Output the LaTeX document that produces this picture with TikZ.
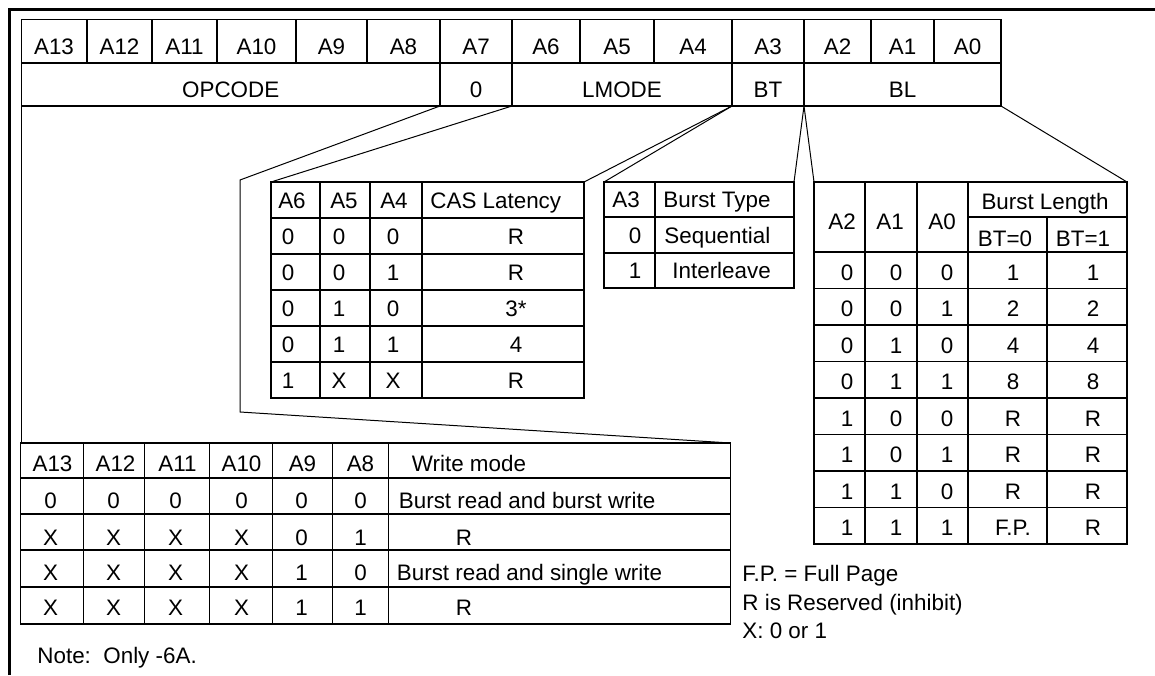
\documentclass[tikz,border=0pt]{standalone}
\usepackage{fontspec}
\setmainfont{Liberation Sans}
\tikzset{
  txt/.style={inner sep=0pt, anchor=base, font=\fontsize{11.2}{13.4}\selectfont},
  txtl/.style={txt, anchor=base west},
  grid/.style={line width=0.7pt},
  link/.style={line width=0.5pt},
  frame/.style={line width=1.5pt}
}
\begin{document}
\begin{tikzpicture}[x=0.5pt, y=-0.5pt]
\useasboundingbox (0,0) rectangle (1155,675);
\draw[frame] (9.5,675) -- (9.5,9.5) -- (1155,9.5);

% mode register
\begin{scope}[grid]
  \draw (21.5,19.5) rectangle (1001,106);
  \draw (21.5,63) -- (1001,63);
  \foreach \x in {87,152,217,296,367,580,654,871,934}
    \draw (\x,19.5) -- (\x,63);
  \foreach \x in {440,512,732,804}
    \draw (\x,19.5) -- (\x,106);
\end{scope}
\foreach \t/\x in {A13/54,A12/119.5,A11/184.5,A10/256.5,A9/331.5,A8/403.5,A7/476,
  A6/546,A5/617,A4/693,A3/768,A2/837.5,A1/902.5,A0/967.5}
  \node[txt] (reg-\t) at (\x,54) {\t};
\node[txt] (opcode) at (230.7,97) {OPCODE};
\node[txt] (zero) at (476,97) {0};
\node[txt] (lmode) at (622,97) {LMODE};
\node[txt] (bt) at (768,97) {BT};
\node[txt] (bl) at (902.5,97) {BL};
\coordinate (op-sw) at (21.5,106);
\coordinate (op-se) at (440,106);
\coordinate (lm-sw) at (512,106);
\coordinate (lm-se) at (732,106);
\coordinate (bl-sw) at (804,106);
\coordinate (bl-se) at (1001,106);

% CAS latency
\begin{scope}[shift={(271,182)}]
  \draw[grid] (0,0) rectangle (313,216);
  \foreach \y in {36,72,108,144,180} \draw[grid] (0,\y) -- (313,\y);
  \foreach \x in {49,99,151} \draw[grid] (\x,0) -- (\x,216);
  \coordinate (cas-nw) at (0,0);
  \coordinate (cas-ne) at (313,0);
  \node[txt] (cas-h1) at (21,26) {A6};
  \node[txt] (cas-h2) at (73,26) {A5};
  \node[txt] (cas-h3) at (123,26) {A4};
  \node[txtl] (cas-h4) at (159,26) {CAS Latency};
  \foreach \a/\b/\c/\d [count=\r] in {0/0/0/R,0/0/1/R,0/1/0/3*,0/1/1/4,1/X/X/R}{
    \node[txt] (cas\r-a) at (17,{36*\r+26}) {\a};
    \node[txt] (cas\r-b) at (68,{36*\r+26}) {\b};
    \node[txt] (cas\r-c) at (122,{36*\r+26}) {\c};
    \node[txt] (cas\r-d) at (245,{36*\r+26}) {\d};
  }
\end{scope}

% burst type
\begin{scope}[shift={(604,182)}]
  \draw[grid] (0,0) rectangle (190,106);
  \draw[grid] (0,35) -- (190,35) (0,71) -- (190,71) (51,0) -- (51,106);
  \coordinate (bt-nw) at (0,0);
  \coordinate (bt-ne) at (190,0);
  \node[txt] (bt-h1) at (22,25.5) {A3};
  \node[txtl] (bt-h2) at (59,25.5) {Burst Type};
  \node[txt] (bt-0) at (31,61) {0};
  \node[txtl] (bt-seq) at (60,61) {Sequential};
  \node[txt] (bt-1) at (31,96.5) {1};
  \node[txtl] (bt-int) at (68,96.5) {Interleave};
\end{scope}

% burst length
\begin{scope}[shift={(814,182)}]
  \draw[grid] (0,0) rectangle (313,362);
  \draw[grid] (154,35) -- (313,35) (233,35) -- (233,362);
  \foreach \x in {51,103,154} \draw[grid] (\x,0) -- (\x,362);
  \foreach \k in {0,...,7} \draw[grid] (0,{70+36.5*\k}) -- (313,{70+36.5*\k});
  \coordinate (len-nw) at (0,0);
  \coordinate (len-ne) at (313,0);
  \node[txt] (len-h1) at (28,47) {A2};
  \node[txt] (len-h2) at (76,47) {A1};
  \node[txt] (len-h3) at (128,47) {A0};
  \node[txt] (len-h4) at (231,27) {Burst Length};
  \node[txt] (len-h5) at (191,64) {BT=0};
  \node[txt] (len-h6) at (269,64) {BT=1};
  \foreach \a/\b/\c/\d/\e [count=\r from 0] in {0/0/0/1/1,0/0/1/2/2,0/1/0/4/4,
    0/1/1/8/8,1/0/0/R/R,1/0/1/R/R,1/1/0/R/R,1/1/1/F.P./R}{
    \node[txt] (len\r-a) at (33,{98+36.5*\r}) {\a};
    \node[txt] (len\r-b) at (82,{98+36.5*\r}) {\b};
    \node[txt] (len\r-c) at (133,{98+36.5*\r}) {\c};
    \node[txt] (len\r-d) at (199,{98+36.5*\r}) {\d};
    \node[txt] (len\r-e) at (279,{98+36.5*\r}) {\e};
  }
\end{scope}

% write mode
\begin{scope}[shift={(20.5,443)}]
  \draw[grid] (0,0) rectangle (710,181);
  \foreach \y in {35,71,107,144} \draw[grid] (0,\y) -- (710,\y);
  \foreach \x in {63,124,189,252,312,368} \draw[grid] (\x,0) -- (\x,181);
  \coordinate (wm-nw) at (0,0);
  \coordinate (wm-ne) at (710,0);
  \foreach \t/\x [count=\i] in {A13/32,A12/95,A11/157,A10/221,A9/282,A8/340}
    \node[txt] (wm-h\i) at (\x,28) {\t};
  \node[txtl] (wm-h7) at (391,28) {Write mode};
  \foreach \a/\b/\c/\d/\e/\f/\m/\mx/\yb [count=\r] in {
    0/0/0/0/0/0/Burst read and burst write/378/65,
    X/X/X/X/0/1/R/435/102,
    X/X/X/X/1/0/Burst read and single write/376/137,
    X/X/X/X/1/1/R/435/172}{
    \node[txt] (wm\r-a) at (30,\yb) {\a};
    \node[txt] (wm\r-b) at (93,\yb) {\b};
    \node[txt] (wm\r-c) at (155,\yb) {\c};
    \node[txt] (wm\r-d) at (221,\yb) {\d};
    \node[txt] (wm\r-e) at (281,\yb) {\e};
    \node[txt] (wm\r-f) at (340,\yb) {\f};
    \node[txtl] (wm\r-m) at (\mx,\yb) {\m};
  }
\end{scope}
\coordinate (wm-bend) at (240,180);
\coordinate (wm-knee) at (240,412);

% connectors
\draw[link] (op-sw) -- (op-sw |- wm-nw);
\draw[link] (op-se) -- (wm-bend) -- (wm-knee) -- (wm-ne);
\draw[link] (lm-sw) -- (cas-nw);
\draw[link] (lm-se) -- (cas-ne);
\draw[link] (lm-se) -- (bt-nw);
\draw[link] (bl-sw) -- (bt-ne);
\draw[link] (bl-sw) -- (len-nw);
\draw[link] (bl-se) -- (len-ne);

% notes
\node[txtl] (fp) at (742,581) {F.P. = Full Page};
\node[txtl] (rsv) at (742,610) {R is Reserved (inhibit)};
\node[txtl] (xany) at (742,638) {X: 0 or 1};
\node[txtl] (note) at (37,663) {Note:\ \ Only -6A.};
\end{tikzpicture}
\end{document}
